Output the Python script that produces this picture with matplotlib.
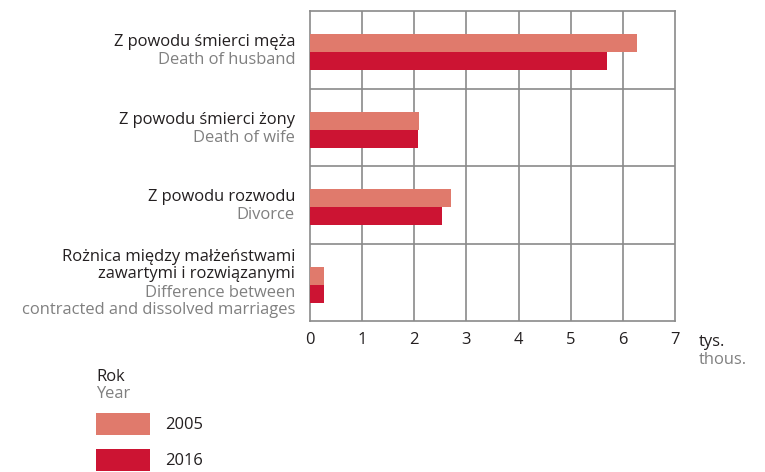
import matplotlib.pyplot as plt
import numpy as np

plt.rcParams['font.family'] = ['Open Sans', 'DejaVu Sans']

# data (thousands)
labels_pl = ["Z powodu śmierci męża", "Z powodu śmierci żony", "Z powodu rozwodu",
             "Rożnica między małżeństwami\nzawartymi i rozwiązanymi"]
labels_en = ["Death of husband", "Death of wife", "Divorce",
             "Difference between\ncontracted and dissolved marriages"]
years = ["2005", "2016"]
v2005 = [6.27, 2.09, 2.70, 0.27]
v2016 = [5.69, 2.07, 2.53, 0.27]

c2005 = "#e07a6c"
c2016 = "#cc1433"
dark = "#231f20"
grey = "#808080"
gridc = "#8a8a8a"

fig = plt.figure(figsize=(7.65, 4.72), dpi=100)
ax = fig.add_axes([310/765, 1 - 321/472, 365/765, 310/472])

y = np.arange(len(labels_pl))
h = 0.232
b1 = ax.barh(y + 0.03 - h/2, v2005, height=h, color=c2005, label=years[0], zorder=3)
b2 = ax.barh(y + 0.03 + h/2, v2016, height=h, color=c2016, label=years[1], zorder=3)

ax.set_xlim(0, 7)
ax.set_ylim(3.5, -0.5)
ax.set_xticks(range(8))
ax.set_yticks([])
for x in range(1, 7):
    ax.axvline(x, color=gridc, lw=1.2, zorder=1)
for yy in [0.5, 1.5, 2.5]:
    ax.axhline(yy, color=gridc, lw=1.2, zorder=1)
for s in ax.spines.values():
    s.set_color(gridc)
    s.set_linewidth(1.2)

fs = 11.9
ax.tick_params(axis='x', length=0, pad=8, labelsize=fs, labelcolor=dark)

lh = 18
for i in range(len(labels_pl)):
    n_pl = labels_pl[i].count("\n") + 1
    n_en = labels_en[i].count("\n") + 1
    total = (n_pl + n_en) * lh
    top = -total / 2 + 1.5
    ax.annotate(labels_pl[i], xy=(0, i), xycoords=('axes fraction', 'data'),
                xytext=(-15, -(top + n_pl * lh / 2)), textcoords='offset pixels',
                ha='right', va='center', fontsize=fs, color=dark, linespacing=1.08)
    ax.annotate(labels_en[i], xy=(0, i), xycoords=('axes fraction', 'data'),
                xytext=(-15, -(top + n_pl * lh + n_en * lh / 2)), textcoords='offset pixels',
                ha='right', va='center', fontsize=fs, color=grey, linespacing=1.08)

fig.text(699/765, 1 - 342/472, "tys.", fontsize=fs, color=dark, va='center')
fig.text(699/765, 1 - 360/472, "thous.", fontsize=fs, color=grey, va='center')

fig.text(96/765, 1 - 377/472, "Rok", fontsize=fs, color=dark, va='center')
fig.text(96/765, 1 - 394/472, "Year", fontsize=fs, color=grey, va='center')

fig.legend(handles=[b1, b2], labels=years, loc='upper left',
           bbox_to_anchor=(96/765, 1 - 413/472), frameon=False, borderpad=0,
           borderaxespad=0, handlelength=3.25, handleheight=1.65, labelspacing=0.85,
           handletextpad=0.95, fontsize=fs, labelcolor=dark)

fig.savefig("out.png", dpi=100)
